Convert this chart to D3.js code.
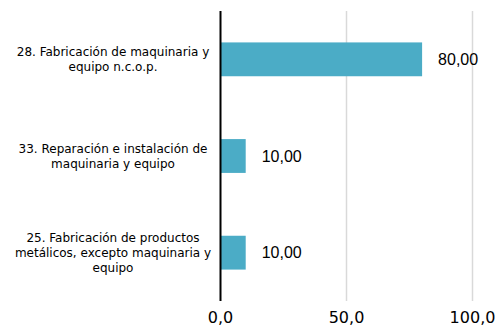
<!DOCTYPE html>
<html><head><meta charset="utf-8">
<script src="https://cdn.jsdelivr.net/npm/d3@7"></script>
<style>body{margin:0;background:#fff}svg{display:block}</style>
</head><body>
<svg id="c" width="499" height="334"></svg>
<script>
const categories = [
  ["28. Fabricación de maquinaria y", "equipo n.c.o.p."],
  ["33. Reparación e instalación de", "maquinaria y equipo"],
  ["25. Fabricación de productos", "metálicos, excepto maquinaria y", "equipo"]
];
const values = [80, 10, 10];
const valueLabels = ["80,00", "10,00", "10,00"];
const tickValues = [0, 50, 100];
const tickLabels = ["0,0", "50,0", "100,0"];

const svg = d3.select("#c");
const x = d3.scaleLinear().domain([0, 100]).range([220.5, 472.5]);
const y = d3.scaleBand().domain(d3.range(categories.length)).range([11, 301])
  .paddingInner(0.65).paddingOuter(0.325);

// gridlines
svg.append("g").selectAll("line").data(tickValues.slice(1)).join("line")
  .attr("x1", d => x(d)).attr("x2", d => x(d)).attr("y1", 11).attr("y2", 301)
  .attr("stroke", "#d9d9d9").attr("stroke-width", 1.5);

// bars
svg.append("g").selectAll("rect").data(values).join("rect")
  .attr("x", x(0)).attr("y", (d, i) => y(i))
  .attr("width", d => x(d) - x(0)).attr("height", y.bandwidth())
  .attr("fill", "#4bacc6");

// axis line
svg.append("line").attr("x1", x(0)).attr("x2", x(0)).attr("y1", 11).attr("y2", 301)
  .attr("stroke", "#000").attr("stroke-width", 2);

// value labels
svg.append("g").selectAll("text").data(values).join("text")
  .attr("x", d => x(d) + 16).attr("y", (d, i) => y(i) + y.bandwidth() / 2)
  .attr("dy", "0.35em")
  .attr("font-family", "Liberation Sans, Arial, sans-serif").attr("font-size", 16)
  .attr("fill", "#000")
  .text((d, i) => valueLabels[i]);

// tick labels
svg.append("g").selectAll("text").data(tickValues).join("text")
  .attr("x", d => x(d)).attr("y", 323).attr("text-anchor", "middle")
  .attr("font-family", "DejaVu Sans, Verdana, sans-serif").attr("font-size", 16)
  .attr("fill", "#000")
  .text((d, i) => tickLabels[i]);

// category labels
const lh = 15;
svg.append("g").selectAll("text").data(categories).join("text")
  .attr("font-family", "DejaVu Sans, Verdana, sans-serif").attr("font-size", 12)
  .attr("fill", "#000").attr("text-anchor", "middle")
  .each(function(lines, i) {
    const cy = y(i) + y.bandwidth() / 2;
    const t = d3.select(this);
    lines.forEach((l, j) => {
      t.append("tspan").attr("x", 113)
        .attr("y", cy + (j - (lines.length - 1) / 2) * lh)
        .attr("dy", "0.35em").text(l);
    });
  });
</script>
</body></html>
